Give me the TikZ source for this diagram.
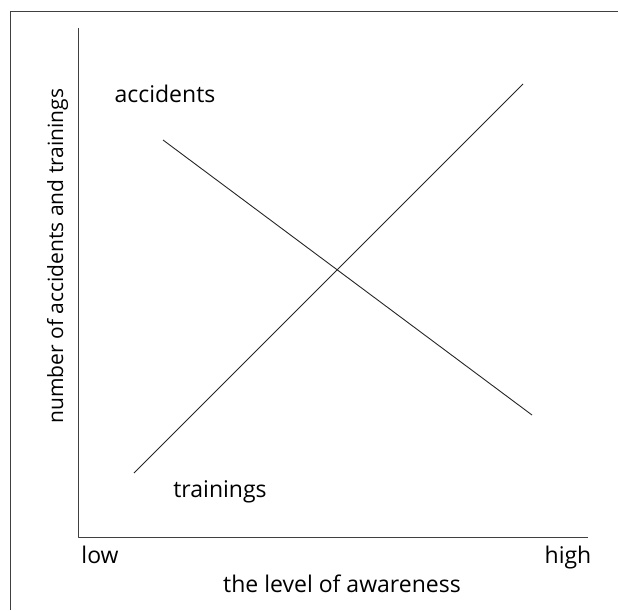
\documentclass[tikz,border=0pt]{standalone}
\usepackage{fontspec}
\setmainfont{Open Sans}
\begin{document}
\begin{tikzpicture}[x=1pt,y=-1pt,line join=round,font=\fontsize{23}{27}\selectfont,
	axis/.style={draw=black!75,line width=1pt},
	curve/.style={draw=black!85,line width=0.9pt},
	lab/.style={anchor=base,inner sep=0pt}]
		\useasboundingbox (0,0) rectangle (618,610);
		\draw[axis] (10,610)--(10,12)--(618,12);
		\coordinate (O) at (78,537);
		\coordinate (ytop) at (78,28);
		\coordinate (xend) at (588,537);
		\draw[axis] (ytop)--(O)--(xend);
		\coordinate (a1) at (163,140);
		\coordinate (a2) at (532,415);
		\coordinate (t1) at (134,473);
		\coordinate (t2) at (523,84);
		\draw[curve] (a1)--(a2);
		\draw[curve] (t1)--(t2);
		\node[lab] (acc) at (165,102) {accidents};
		\node[lab] (tra) at (220,497) {trainings};
		\node[lab] (low) at (100,563) {low};
		\node[lab] (high) at (568,563) {high};
		\node[lab] (xlab) at (342,592) {the level of awareness};
		\node[lab,rotate=90,font=\fontsize{21}{25}\selectfont] (ylab) at (63,256) {number of accidents and trainings};
\end{tikzpicture}
\end{document}
